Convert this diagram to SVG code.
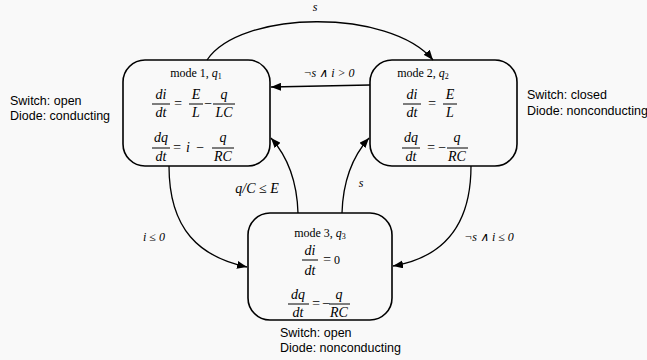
<svg xmlns="http://www.w3.org/2000/svg" width="647" height="360" viewBox="0 0 647 360">
<style>
.box{fill:none;stroke:#000;stroke-width:1.6}
.conn{fill:none;stroke:#000;stroke-width:1.3}
.m{font-family:"Liberation Serif",serif;font-style:italic;font-size:14px;fill:#000}
.r{font-family:"Liberation Serif",serif;font-size:12px;fill:#000}
.lab{font-family:"Liberation Serif",serif;font-style:italic;font-size:12px;fill:#000}
.side{font-family:"Liberation Sans",Arial,sans-serif;font-size:12.5px;fill:#000}
.bar{stroke:#000;stroke-width:1}
.c{text-anchor:middle}
</style>
<defs>
<marker id="ah" viewBox="0 0 10 8" refX="10" refY="4" markerWidth="10" markerHeight="8" markerUnits="userSpaceOnUse" orient="auto">
<path d="M0,0 L10,4 L0,8 Z" fill="#000"/>
</marker>
</defs>
<rect width="647" height="360" fill="#f9f9f9"/>
<g id="connectors">
<path class="conn" d="M207,60 C240,10 390,8 433,60" marker-end="url(#ah)"/>
<path class="conn" d="M370,85 L271,87" marker-end="url(#ah)"/>
<path class="conn" d="M298,213 C297,180 288,157 271,138" marker-end="url(#ah)"/>
<path class="conn" d="M342,213 C343,180 352,157 369,138" marker-end="url(#ah)"/>
<path class="conn" d="M169,166 C169,230 200,257 247,267" marker-end="url(#ah)"/>
<path class="conn" d="M471,166 C471,230 440,258 393,266" marker-end="url(#ah)"/>
<text class="lab c" x="315" y="11">s</text>
<text class="lab c" x="329" y="77">¬s ∧ i &gt; 0</text>
<text class="m c" x="257" y="193">q/C ≤ E</text>
<text class="lab c" x="361" y="187">s</text>
<text class="lab c" x="154" y="241">i ≤ 0</text>
<text class="lab c" x="489" y="241">¬s ∧ i ≤ 0</text>
</g>
<g id="mode1">
<rect class="box" x="123" y="60" width="147" height="106" rx="22"/>
<text class="r c" x="196" y="77">mode 1, <tspan font-style="italic">q</tspan><tspan font-size="8" dy="2">1</tspan></text>
<text class="m c" x="161" y="99">di</text><line class="bar" x1="152" y1="104" x2="170" y2="104"/><text class="m c" x="161" y="117">dt</text>
<text class="m c" x="178" y="108">=</text>
<text class="m c" x="196" y="99">E</text><line class="bar" x1="189" y1="104" x2="203" y2="104"/><text class="m c" x="196" y="117">L</text>
<text class="m c" x="208" y="108">−</text>
<text class="m c" x="224" y="99">q</text><line class="bar" x1="213" y1="104" x2="235" y2="104"/><text class="m c" x="224" y="117">LC</text>
<text class="m c" x="161" y="142">dq</text><line class="bar" x1="152" y1="148" x2="170" y2="148"/><text class="m c" x="161" y="161">dt</text>
<text class="m c" x="177" y="152">=</text>
<text class="m c" x="188" y="152">i</text>
<text class="m c" x="200" y="152">−</text>
<text class="m c" x="223" y="142">q</text><line class="bar" x1="212" y1="148" x2="234" y2="148"/><text class="m c" x="223" y="161">RC</text>
<text class="side" x="10" y="105">Switch: open</text>
<text class="side" x="10" y="120">Diode: conducting</text>
</g>
<g id="mode2">
<rect class="box" x="370" y="60" width="147" height="106" rx="22"/>
<text class="r c" x="423" y="77">mode 2, <tspan font-style="italic">q</tspan><tspan font-size="8" dy="2">2</tspan></text>
<text class="m c" x="412" y="99">di</text><line class="bar" x1="403" y1="104" x2="421" y2="104"/><text class="m c" x="412" y="117">dt</text>
<text class="m c" x="432" y="108">=</text>
<text class="m c" x="450" y="99">E</text><line class="bar" x1="443" y1="104" x2="457" y2="104"/><text class="m c" x="450" y="117">L</text>
<text class="m c" x="411" y="142">dq</text><line class="bar" x1="402" y1="148" x2="420" y2="148"/><text class="m c" x="411" y="161">dt</text>
<text class="m c" x="431" y="152">=</text>
<text class="m c" x="442" y="152">−</text>
<text class="m c" x="457" y="142">q</text><line class="bar" x1="447" y1="148" x2="468" y2="148"/><text class="m c" x="457" y="161">RC</text>
<text class="side" x="527" y="99" font-size="12">Switch: closed</text>
<text class="side" x="527" y="115" font-size="12">Diode: nonconducting</text>
</g>
<g id="mode3">
<rect class="box" x="248" y="213" width="144" height="107" rx="22"/>
<text class="r c" x="320" y="237">mode 3, <tspan font-style="italic">q</tspan><tspan font-size="8" dy="2">3</tspan></text>
<text class="m c" x="310" y="255">di</text><line class="bar" x1="302" y1="260" x2="318" y2="260"/><text class="m c" x="310" y="275">dt</text>
<text class="m c" x="327" y="264">=</text>
<text class="r" x="334" y="264" font-size="13">0</text>
<text class="m c" x="298" y="299">dq</text><line class="bar" x1="288" y1="304" x2="309" y2="304"/><text class="m c" x="298" y="317">dt</text>
<text class="m c" x="316" y="308">=</text>
<text class="m c" x="326" y="308">−</text>
<text class="m c" x="339" y="299">q</text><line class="bar" x1="329" y1="304" x2="350" y2="304"/><text class="m c" x="339" y="317">RC</text>
<text class="side" x="280" y="337">Switch: open</text>
<text class="side" x="280" y="352">Diode: nonconducting</text>
</g>
</svg>
